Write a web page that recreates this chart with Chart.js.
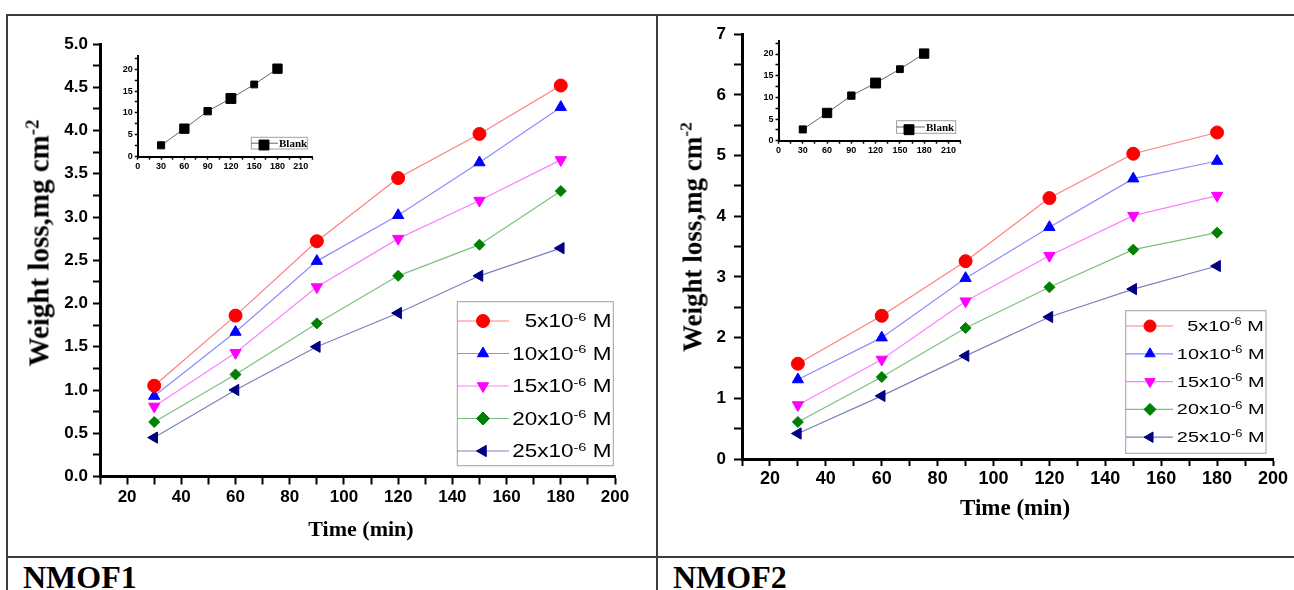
<!DOCTYPE html>
<html lang="en">
<head>
<meta charset="utf-8">
<title>Weight loss - NMOF1 / NMOF2</title>
<script src="https://cdn.jsdelivr.net/npm/chart.js@4.4.1/dist/chart.umd.min.js"></script>
<style>
  html, body { margin: 0; padding: 0; background: #fff; }
  body { position: relative; width: 1294px; height: 590px; overflow: hidden; }
  canvas { position: absolute; }
  .borda { position: absolute; background: #3c3c3c; }
  .serif { position: absolute; font-family: 'Liberation Serif', 'Times New Roman', serif; font-weight: bold; color: #000; white-space: nowrap; line-height: 1; }
  .centro { transform: translate(-50%, -50%); }
  .vertical { transform: translate(-50%, -50%) rotate(-90deg); }
  .sup { position: relative; font-size: 0.65em; top: -0.55em; }
  .leg { position: absolute; font-family: 'Liberation Sans', Arial, sans-serif; color: #000; white-space: nowrap; line-height: 1; transform-origin: right center; }
</style>
</head>
<body>
<div class="borda" style="left:6px;top:14px;width:1288px;height:2px"></div>
<div class="borda" style="left:6px;top:14px;width:2px;height:576px"></div>
<div class="borda" style="left:656px;top:14px;width:2px;height:576px"></div>
<div class="borda" style="left:6px;top:556px;width:1288px;height:2px"></div>

<canvas id="g1" width="648" height="540" style="left:8px;top:16px"></canvas>
<canvas id="g1i" width="220" height="140" style="left:100px;top:40px"></canvas>
<canvas id="g2" width="634" height="540" style="left:659px;top:16px"></canvas>
<canvas id="g2i" width="230" height="140" style="left:740px;top:25px"></canvas>

<div class="serif vertical" style="left:39px;top:243px;font-size:29px">Weight loss,mg cm<span class="sup">-2</span></div>
<div class="serif vertical" style="left:693px;top:237px;font-size:27px">Weight loss,mg cm<span class="sup">-2</span></div>
<div class="serif centro" style="left:361px;top:529px;font-size:22px">Time (min)</div>
<div class="serif centro" style="left:1015px;top:507px;font-size:23px">Time (min)</div>
<div class="serif" style="left:279px;top:143px;font-size:11px;transform:translateY(-50%)">Blank</div>
<div class="serif" style="left:926px;top:127px;font-size:11px;transform:translateY(-50%)">Blank</div>
<div class="serif" style="left:23px;top:561px;font-size:32px;line-height:32px">NMOF1</div>
<div class="serif" style="left:673px;top:561px;font-size:32px;line-height:32px">NMOF2</div>

<script>
const tempos = [30, 60, 90, 120, 150, 180];
const concentracoes = ['5', '10', '15', '20', '25'];

// NMOF1 - perda de massa (mg cm-2)
const nmof1_5 = [1.05, 1.86, 2.72, 3.45, 3.96, 4.52];
const nmof1_10 = [0.93, 1.67, 2.49, 3.02, 3.63, 4.27];
const nmof1_15 = [0.81, 1.43, 2.19, 2.75, 3.19, 3.66];
const nmof1_20 = [0.63, 1.18, 1.77, 2.32, 2.68, 3.30];
const nmof1_25 = [0.45, 1.00, 1.50, 1.89, 2.32, 2.64];

// NMOF2
const nmof2_5 = [1.57, 2.36, 3.26, 4.30, 5.03, 5.38];
const nmof2_10 = [1.31, 2.00, 2.98, 3.82, 4.62, 4.91];
const nmof2_15 = [0.89, 1.64, 2.60, 3.35, 4.01, 4.34];
const nmof2_20 = [0.61, 1.35, 2.16, 2.83, 3.45, 3.73];
const nmof2_25 = [0.42, 1.04, 1.70, 2.34, 2.80, 3.18];

// Branco (grafico pequeno)
const blank = [2.6, 6.4, 10.4, 13.3, 16.5, 20.1];

const ticksX = [20, 40, 60, 80, 100, 120, 140, 160, 180, 200];
const ticksY1 = [0, 0.5, 1, 1.5, 2, 2.5, 3, 3.5, 4, 4.5, 5];
const ticksY2 = [0, 1, 2, 3, 4, 5, 6, 7];
const ticksXInset = [0, 30, 60, 90, 120, 150, 180, 210];
const ticksYInset = [0, 5, 10, 15, 20];

const estilos = [
    { cor: '#ff0000', linha: 'rgba(255,0,0,0.5)', forma: 'circle', rot: 0, raio: 6.5 },
    { cor: '#0000ff', linha: 'rgba(0,0,255,0.45)', forma: 'triangle', rot: 0, raio: 6.5 },
    { cor: '#ff00ff', linha: 'rgba(255,0,255,0.5)', forma: 'triangle', rot: 180, raio: 6.5 },
    { cor: '#008000', linha: 'rgba(0,128,0,0.5)', forma: 'rectRot', rot: 0, raio: 5.5 },
    { cor: '#000080', linha: 'rgba(0,0,128,0.5)', forma: 'triangle', rot: -90, raio: 6.5 }
];
const estiloBlank = { cor: '#000', linha: '#666', forma: 'rect', rot: 0, raio: [5, 6.6, 5.2, 7, 4.8, 6.6] };

// legenda desenhada dentro da area do grafico
const legendaPlugin = {
    id: 'legendaCaixa',
    afterDraw(chart, args, opts) {
        if (!opts.caixa) return;
        const ctx = chart.ctx;
        const [x0, y0, x1, y1] = opts.caixa;
        ctx.save();
        ctx.fillStyle = '#fff';
        ctx.fillRect(x0, y0, x1 - x0, y1 - y0);
        ctx.strokeStyle = '#a0a0a0';
        ctx.lineWidth = 1;
        ctx.strokeRect(x0, y0, x1 - x0, y1 - y0);
        chart.data.datasets.forEach((ds, i) => {
            const y = opts.linhas[i];
            ctx.strokeStyle = ds.borderColor;
            ctx.lineWidth = ds.borderWidth;
            ctx.beginPath();
            ctx.moveTo(opts.linhaX[0], y);
            ctx.lineTo(opts.linhaX[1], y);
            ctx.stroke();
            ctx.fillStyle = ds.pointBackgroundColor;
            ctx.strokeStyle = ds.pointBorderColor;
            ctx.lineWidth = 1;
            Chart.helpers.drawPoint(ctx, {
                pointStyle: ds.pointStyle, rotation: ds.pointRotation || 0,
                radius: opts.raio, borderWidth: 1
            }, opts.marcadorX, opts.marcadorY ? opts.marcadorY[i] : y);
        });
        ctx.restore();
    }
};

function eixo(c) {
    return {
        type: 'linear', min: c.min, max: c.max,
        afterFit: s => { if (c.vertical) s.width = c.tam; else s.height = c.tam; },
        ticks: {
            stepSize: c.passo, autoSkip: false, maxRotation: 0, minRotation: 0, includeBounds: false,
            color: '#000', font: c.fonte, padding: c.pad,
            callback: v => c.rotulos.some(r => Math.abs(r - v) < 1e-6) ? v.toFixed(c.casas) : ''
        },
        grid: { drawOnChartArea: false, drawTicks: true, tickLength: c.tl, tickWidth: c.borda > 2 ? 2 : 1.5, tickColor: '#000' },
        border: { display: true, color: '#000', width: c.borda }
    };
}

function gerarGrafico(id, series, est, cfg) {
    const ctx = document.getElementById(id).getContext('2d');
    return new Chart(ctx, {
        type: 'line',
        data: {
            datasets: series.map((valores, i) => ({
                data: tempos.map((t, k) => ({ x: t, y: valores[k] })),
                borderColor: est[i].linha,
                borderWidth: cfg.linhaW,
                pointStyle: est[i].forma,
                pointRotation: est[i].rot,
                pointRadius: est[i].raio,
                pointBackgroundColor: est[i].cor,
                pointBorderColor: est[i].cor,
                pointBorderWidth: 1,
                tension: 0,
                fill: false
            }))
        },
        options: {
            responsive: false,
            animation: false,
            devicePixelRatio: 1,
            layout: { padding: cfg.padding },
            scales: { x: eixo(cfg.x), y: eixo(cfg.y) },
            plugins: {
                legend: { display: false },
                tooltip: { enabled: false },
                legendaCaixa: cfg.legenda || {}
            }
        },
        plugins: [legendaPlugin]
    });
}

function legendaTexto(xDireita, ys, fonte, escala) {
    ys.forEach((y, i) => {
        const d = document.createElement('div');
        d.className = 'leg';
        d.style.right = (1294 - xDireita) + 'px';
        d.style.top = y + 'px';
        d.style.fontSize = fonte + 'px';
        d.style.transform = `translateY(-50%) scaleX(${escala})`;
        d.innerHTML = `${concentracoes[i]}x10<span class="sup">-6</span> M`;
        document.body.appendChild(d);
    });
}

function inicializar() {
    const sans = (s) => ({ family: "'Liberation Sans', Arial, sans-serif", size: s, weight: 'bold' });

    gerarGrafico('g1', [nmof1_5, nmof1_10, nmof1_15, nmof1_20, nmof1_25], estilos, {
        linhaW: 1.2,
        padding: { left: 42, right: 41, top: 28, bottom: 49.5 },
        x: { min: 10, max: 200, passo: 10, rotulos: ticksX, casas: 0, fonte: sans(17), tam: 30, tl: 8, pad: 3, borda: 3 },
        y: { min: 0, max: 5, passo: 0.25, rotulos: ticksY1, casas: 1, fonte: sans(17), tam: 50, tl: 7, pad: 5, borda: 3, vertical: true },
        legenda: { caixa: [449.3, 285.7, 605.3, 449.7], linhaX: [449.3, 501], marcadorX: 475, linhas: [305, 337.5, 370, 402.5, 435], raio: 6.5 }
    });
    gerarGrafico('g1i', [blank], [estiloBlank], {
        linhaW: 1,
        padding: { left: 12.8, right: 6.5, top: 16, bottom: 5.3 },
        x: { min: 0, max: 225, passo: 15, rotulos: ticksXInset, casas: 0, fonte: sans(9), tam: 18, tl: 3, pad: 1, borda: 2 },
        y: { min: 0, max: 23, passo: 2.5, rotulos: ticksYInset, casas: 0, fonte: sans(9), tam: 25, tl: 3, pad: 2, borda: 2, vertical: true },
        legenda: { caixa: [151.3, 97.3, 207.3, 109], linhaX: [151.3, 178], marcadorX: 164, marcadorY: [105], linhas: [103.2], raio: 7 }
    });

    gerarGrafico('g2', [nmof2_5, nmof2_10, nmof2_15, nmof2_20, nmof2_25], estilos, {
        linhaW: 1.2,
        padding: { left: 33, right: 20, top: 14, bottom: 67 },
        x: { min: 10, max: 200, passo: 10, rotulos: ticksX, casas: 0, fonte: sans(18), tam: 30, tl: 7, pad: 2, borda: 3 },
        y: { min: 0, max: 7, passo: 0.5, rotulos: ticksY2, casas: 0, fonte: sans(17), tam: 50, tl: 8, pad: 8, borda: 3, vertical: true },
        legenda: { caixa: [466.7, 294.7, 607, 437.3], linhaX: [467, 514], marcadorX: 491, linhas: [310, 337.8, 365.6, 393.4, 421.2], raio: 6 }
    });
    gerarGrafico('g2i', [blank], [estiloBlank], {
        linhaW: 1,
        padding: { left: 13.5, right: 9.4, top: 16, bottom: 6.3 },
        x: { min: 0, max: 225, passo: 15, rotulos: ticksXInset, casas: 0, fonte: sans(9), tam: 18, tl: 3, pad: 1, borda: 2 },
        y: { min: 0, max: 23, passo: 2.5, rotulos: ticksYInset, casas: 0, fonte: sans(9), tam: 25, tl: 3, pad: 2, borda: 2, vertical: true },
        legenda: { caixa: [156.6, 95.7, 215.7, 108.3], linhaX: [156.6, 185], marcadorX: 169, marcadorY: [104.7], linhas: [102], raio: 7 }
    });

    legendaTexto(611.7, [321, 353.5, 386, 418.5, 451], 18, 1.25);
    legendaTexto(1264, [326, 353.8, 381.6, 409.4, 437.2], 15.5, 1.28);
}

window.onload = inicializar;
</script>
</body>
</html>
